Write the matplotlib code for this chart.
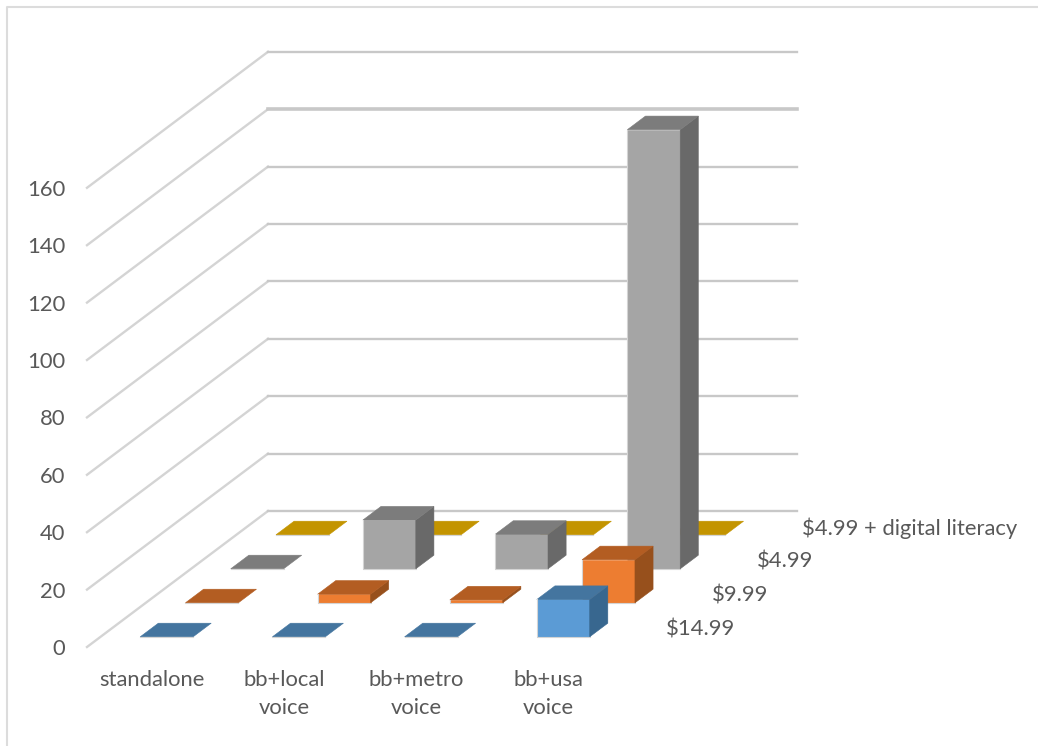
import matplotlib
matplotlib.use('Agg')
import matplotlib.pyplot as plt
from matplotlib.patches import Polygon

categories = ['standalone', 'bb+local\nvoice', 'bb+metro\nvoice', 'bb+usa\nvoice']
series_names = ['$14.99', '$9.99', '$4.99', '$4.99 + digital literacy']
value_ticks = [0, 20, 40, 60, 80, 100, 120, 140, 160]

price_1499 = [0, 0, 0, 13]
price_999 = [0, 3, 1, 15]
price_499 = [0, 17, 12, 153]
price_499_dl = [0, 0, 0, 0]
series_values = [price_1499, price_999, price_499, price_499_dl]

# front, top, side
series_colors = [
    ('#5B9BD5', '#44759F', '#38678F'),
    ('#ED7D31', '#B35D22', '#97501C'),
    ('#A5A5A5', '#7C7C7C', '#696969'),
    ('#FFC000', '#C39400', '#A57E00'),
]

W, H = 1038, 746
plt.rcParams['font.family'] = ['Lato', 'DejaVu Sans']

fig = plt.figure(figsize=(W / 100, H / 100), dpi=100)
ax = fig.add_axes([0, 0, 1, 1])
ax.set_xlim(0, W)
ax.set_ylim(H, 0)
ax.axis('off')

GRID = '#d4d4d4'
TEXT = '#595959'
FS = 15.8


# oblique projection: category, series depth, value -> pixels
def project(c, d, v):
    return (87 + 132.2 * c + 45.25 * d, 647 - 34 * d - 2.87 * v)


# chart border
ax.plot([7, 7, W], [H, 7, 7], color='#dcdcdc', lw=1.5, zorder=1)

# walls
for v in value_ticks:
    p0 = project(0, 0, v)
    p1 = project(0, 4, v)
    p2 = project(4, 4, v)
    ax.plot([p0[0], p1[0]], [p0[1], p1[1]], color=GRID, lw=1.7, zorder=2)
    # this one comes out heavier in the reference
    back_lw = 2.6 if v == 140 else 1.7
    ax.plot([p1[0], p2[0]], [p1[1], p2[1]], color='#c8c8c8', lw=back_lw, zorder=2)


def draw_bar(c, s, v, colors):
    x0, x1 = c + 0.3, c + 0.7
    d0, d1 = s + 0.3, s + 0.7
    front = [project(x0, d0, 0), project(x1, d0, 0), project(x1, d0, v), project(x0, d0, v)]
    side = [project(x1, d0, 0), project(x1, d1, 0), project(x1, d1, v), project(x1, d0, v)]
    top = [project(x0, d0, v), project(x1, d0, v), project(x1, d1, v), project(x0, d1, v)]
    if v > 0:
        ax.add_patch(Polygon(front, fc=colors[0], ec=colors[0], lw=0.4, zorder=3))
        ax.add_patch(Polygon(side, fc=colors[2], ec=colors[2], lw=0.4, zorder=3))
    ax.add_patch(Polygon(top, fc=colors[1], ec=colors[1], lw=0.4, zorder=3))
    # faint outline along the left and bottom of the front face
    ax.plot([front[3][0], front[0][0], front[1][0]], [front[3][1], front[0][1], front[1][1]],
            color='#d4d4d4', lw=0.8, zorder=3)


# back row first so the front rows cover it
for s in range(3, -1, -1):
    for c in range(4):
        draw_bar(c, s, series_values[s][c], series_colors[s])

for v in value_ticks:
    ax.text(65, project(0, 0, v)[1] + 2, str(v), ha='right', va='center', color=TEXT, fontsize=FS)

for c, name in enumerate(categories):
    ax.text(project(c, 0, 0)[0] + 65, 670, name, ha='center', va='top', color=TEXT, fontsize=FS,
            linespacing=1.5)

for s, name in enumerate(series_names):
    x, y = project(4, s + 0.5, 0)
    ax.text(x + 28, y, name, ha='left', va='center', color=TEXT, fontsize=FS)

fig.savefig('out.png', dpi=100)
